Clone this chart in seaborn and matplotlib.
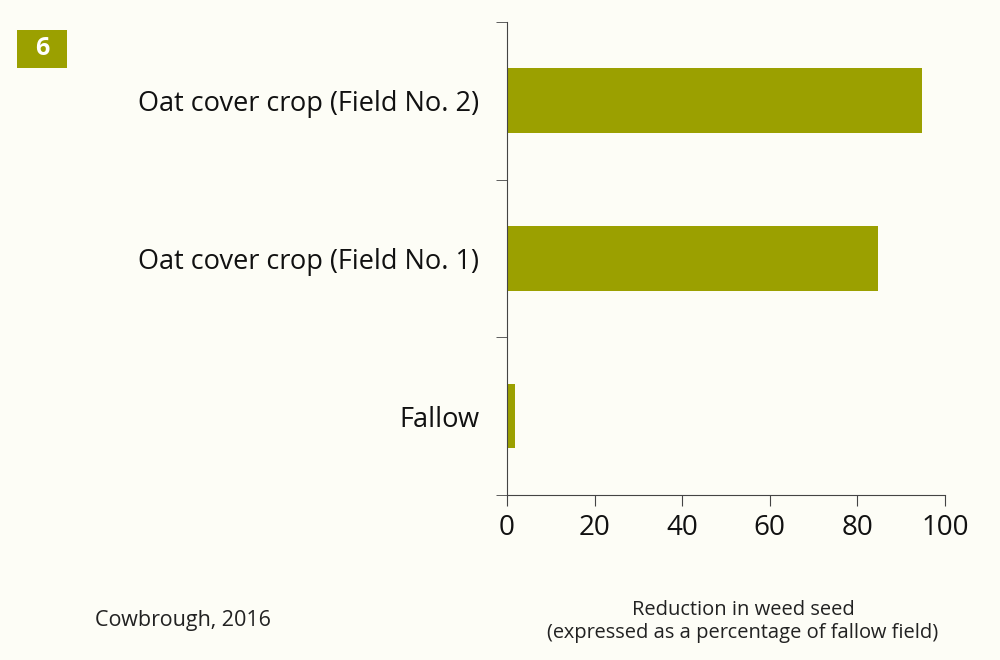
import matplotlib
matplotlib.use("Agg")
import matplotlib.pyplot as plt
import seaborn as sns
import pandas as pd
from matplotlib.patches import Rectangle

categories = ["Oat cover crop (Field No. 2)", "Oat cover crop (Field No. 1)", "Fallow"]
values = [94.7, 84.7, 1.9]
xticks = [0, 20, 40, 60, 80, 100]

bg = "#fdfdf6"
olive = "#9ba000"
plt.rcParams["font.family"] = "Open Sans"

fig = plt.figure(figsize=(10, 6.6), dpi=100, facecolor=bg)
ax = fig.add_axes([0.507, 0.25, 0.438, 0.717], facecolor=bg)
df = pd.DataFrame({"cat": categories, "val": values})
sns.barplot(data=df, x="val", y="cat", orient="h", color=olive, width=0.41,
            saturation=1, ax=ax)
ax.set_xlim(0, 100)
ax.set_ylim(2.5, -0.5)
ax.set_xticks(xticks)
ax.set_xticklabels([str(t) for t in xticks], fontsize=20, color="#111")
ax.set_yticks(range(len(categories)))
ax.set_yticklabels(categories, fontsize=19.5, color="#111")
ax.tick_params(axis="y", length=0, pad=20)
ax.set_yticks([-0.5, 0.5, 1.5, 2.5], minor=True)
ax.tick_params(axis="y", which="minor", length=8, color="#444")
ax.tick_params(axis="x", length=8, color="#444", pad=6)
ax.set_xlabel(""); ax.set_ylabel("")
for s in ["top", "right"]:
    ax.spines[s].set_visible(False)
for s in ["left", "bottom"]:
    ax.spines[s].set_color("#444")

fig.text(0.743, 0.058, "Reduction in weed seed\n(expressed as a percentage of fallow field)",
         ha="center", va="center", fontsize=14.5, color="#222", linespacing=1.2)
fig.text(0.095, 0.06, "Cowbrough, 2016", fontsize=15.5, color="#222", va="center")
fig.patches.append(Rectangle((0.017, 0.897), 0.05, 0.058, transform=fig.transFigure,
                             facecolor=olive, edgecolor="none"))
fig.text(0.042, 0.926, "6", ha="center", va="center", fontsize=18, color="white",
         fontweight="bold")
fig.savefig("out.png", facecolor=bg)
